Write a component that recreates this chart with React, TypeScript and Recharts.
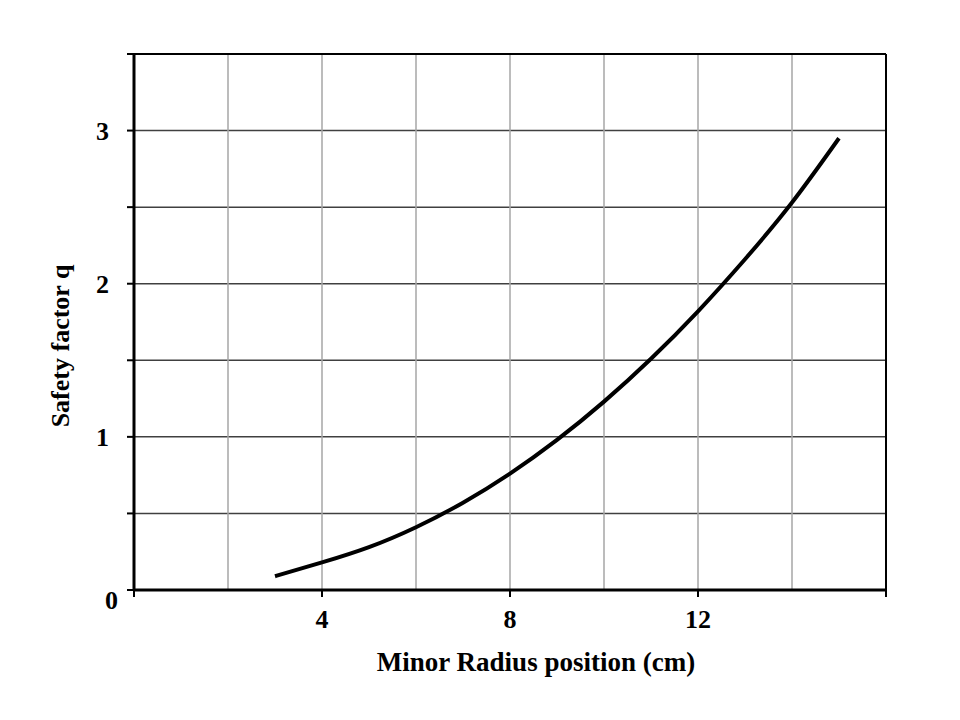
import { LineChart, Line, XAxis, YAxis, CartesianGrid, ReferenceLine, Label } from 'recharts';

const radius = [3, 4, 5, 6, 7, 8, 9, 10, 11, 12, 13, 14, 15];
const safetyQ = [0.09, 0.18, 0.28, 0.41, 0.57, 0.76, 0.98, 1.23, 1.51, 1.82, 2.16, 2.53, 2.95];

const xTicks = [0, 4, 8, 12, 16];
const xTickLabels = ['', '4', '8', '12', ''];
const xGrid = [2, 4, 6, 8, 10, 12, 14];
const yTicks = [0, 0.5, 1, 1.5, 2, 2.5, 3, 3.5];
const yTickLabels = ['0', '', '1', '', '2', '', '3', ''];

const data = radius.map((r, i) => ({ r, q: safetyQ[i] }));

const FONT = '"Liberation Serif", "Times New Roman", serif';

function XTick({ x, y, payload }: any) {
  const i = xTicks.indexOf(payload.value);
  return (
    <text x={x} y={y + 29} textAnchor="middle" fontFamily={FONT} fontWeight="bold" fontSize={26} fill="#000">
      {xTickLabels[i]}
    </text>
  );
}

function YTick({ x, y, payload }: any) {
  const i = yTicks.indexOf(payload.value);
  const label = yTickLabels[i];
  const isZero = payload.value === 0;
  return (
    <text
      x={x - 16 + (isZero ? 9 : 0)}
      y={y + 9 + (isZero ? 10 : 0)}
      textAnchor="end"
      fontFamily={FONT}
      fontWeight="bold"
      fontSize={26}
      fill="#000"
    >
      {label}
    </text>
  );
}

function XTitle({ viewBox }: any) {
  const { x, y, width } = viewBox;
  return (
    <text x={x + width / 2 + 26} y={y + 81} textAnchor="middle" fontFamily={FONT} fontWeight="bold" fontSize={27} fill="#000">
      Minor Radius position (cm)
    </text>
  );
}

function YTitle() {
  return (
    <text x={69} y={346} transform="rotate(-90 69 346)" textAnchor="middle" fontFamily={FONT} fontWeight="bold" fontSize={26} fill="#000">
      Safety factor q
    </text>
  );
}

export default function App() {
  return (
    <div style={{ position: 'absolute', left: 0, top: 0, width: 960, height: 720, background: '#fff' }}>
      <LineChart width={960} height={720} data={data} margin={{ top: 54, right: 74, bottom: 0, left: 0 }}>
        <CartesianGrid vertical={false} stroke="#404040" strokeWidth={1.5} />
        {xGrid.map((v) => (
          <ReferenceLine key={v} x={v} stroke="#a6a6a6" strokeWidth={1.5} />
        ))}
        <ReferenceLine y={3.5} stroke="#000" strokeWidth={2} />
        <ReferenceLine x={16} stroke="#000" strokeWidth={2} />
        <XAxis
          dataKey="r"
          type="number"
          domain={[0, 16]}
          ticks={xTicks}
          interval={0}
          height={130}
          tickSize={7}
          tickLine={{ stroke: '#000', strokeWidth: 2 }}
          axisLine={{ stroke: '#000', strokeWidth: 3 }}
          tick={<XTick />}
        >
          <Label content={<XTitle />} />
        </XAxis>
        <YAxis
          type="number"
          domain={[0, 3.5]}
          ticks={yTicks}
          interval={0}
          width={134}
          tickSize={7}
          tickLine={{ stroke: '#000', strokeWidth: 2 }}
          axisLine={{ stroke: '#000', strokeWidth: 3 }}
          tick={<YTick />}
        >
          <Label content={<YTitle />} />
        </YAxis>
        <Line
          dataKey="q"
          type="natural"
          stroke="#000"
          strokeWidth={4}
          dot={false}
          isAnimationActive={false}
        />
      </LineChart>
    </div>
  );
}
